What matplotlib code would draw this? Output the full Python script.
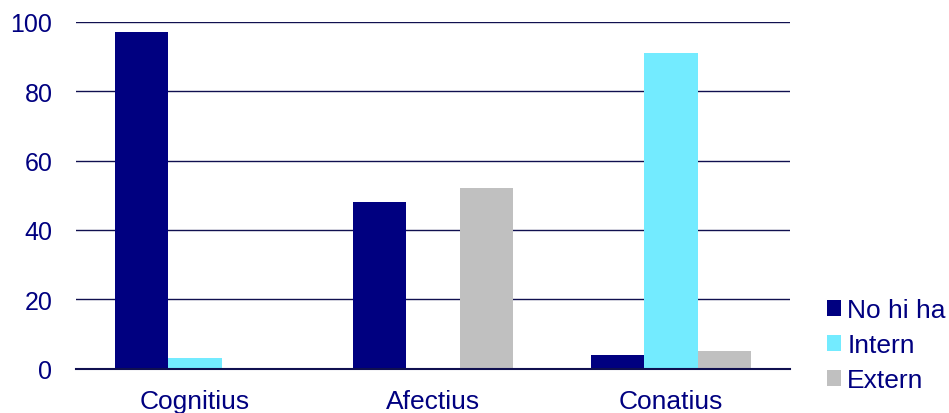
import matplotlib
matplotlib.use("Agg")
import matplotlib.pyplot as plt
import numpy as np

categories = ["Cognitius", "Afectius", "Conatius"]
series_names = ["No hi ha", "Intern", "Extern"]
no_hi_ha = [97, 48, 4]
intern = [3, 0, 91]
extern = [0, 52, 5]
colors = ["#000080", "#73EBFF", "#C0C0C0"]
yticks = [0, 20, 40, 60, 80, 100]

plt.rcParams["font.family"] = ["Liberation Sans", "DejaVu Sans"]
text_color = "#000080"

fig = plt.figure(figsize=(9.49, 4.14), dpi=100)
ax = fig.add_axes([76 / 949, 1 - 369.5 / 414, (790 - 76) / 949, (369.5 - 23) / 414])

x = np.arange(len(categories))
width = 0.223
values = [no_hi_ha, intern, extern]
for i, (vals, name, c) in enumerate(zip(values, series_names, colors)):
    ax.bar(x + (i - 1) * width, vals, width, color=c, label=name,
           edgecolor="none", zorder=3)

ax.set_xlim(-0.5, len(categories) - 0.5)
ax.set_ylim(0, 100)
ax.set_yticks(yticks)
ax.set_xticks(x)
ax.set_xticklabels(categories)
ax.tick_params(axis="y", length=0, pad=17, labelsize=18, labelcolor=text_color)
ax.tick_params(axis="x", length=0, pad=15, labelsize=19, labelcolor=text_color)

ax.grid(axis="y", color="#101050", linewidth=1.0, zorder=1)
for side in ["top", "right", "left"]:
    ax.spines[side].set_visible(False)
ax.spines["bottom"].set_color("#101050")
ax.spines["bottom"].set_linewidth(1.5)
ax.spines["bottom"].set_zorder(4)

leg = ax.legend(loc="lower left", bbox_to_anchor=(824 / 949, 18 / 414),
                bbox_transform=fig.transFigure, frameon=False,
                fontsize=19, handlelength=0.55, handleheight=0.55,
                handletextpad=0.23, labelspacing=0.42, borderaxespad=0.0,
                borderpad=0.1)
for t in leg.get_texts():
    t.set_color(text_color)

fig.savefig("out.png", dpi=100)
